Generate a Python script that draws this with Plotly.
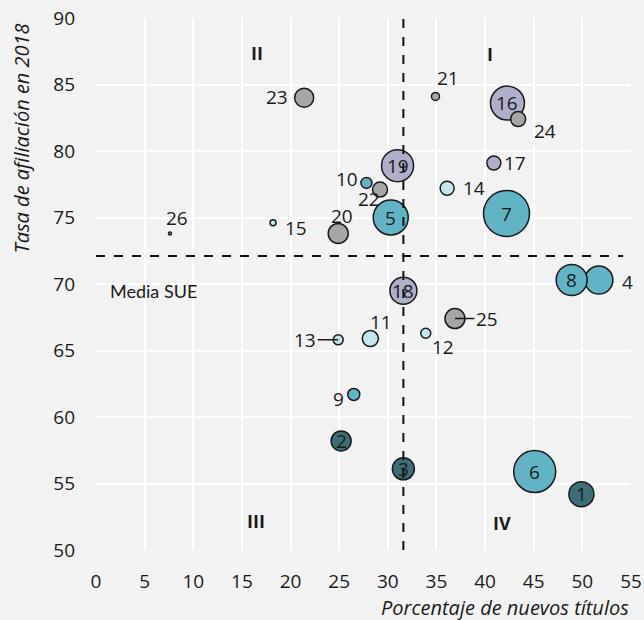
import plotly.graph_objects as go

# ---- data ----
ids = [str(i) for i in range(1, 27)]
pct_nuevos = [49.9, 25.2, 31.6, 51.7, 30.3, 45.1, 42.2, 48.9, 26.5, 27.8,
              28.2, 33.9, 24.9, 36.1, 18.2, 42.3, 40.9, 31.6, 31.0, 24.9,
              34.9, 29.2, 21.4, 43.4, 36.9, 7.6]
tasa_afil = [54.2, 58.2, 56.1, 70.3, 75.0, 55.9, 75.3, 70.3, 61.7, 77.6,
             65.9, 66.3, 65.8, 77.2, 74.6, 83.6, 79.1, 69.5, 78.9, 73.8,
             84.1, 77.1, 84.0, 82.4, 67.4, 73.8]
bubble_value = [25, 20, 22, 28, 35, 42, 46, 31, 12, 11,
                16, 10, 10, 14, 6, 34, 14, 27, 32, 20,
                8, 15, 19, 15, 20, 3]
group = ["A", "A", "A", "B", "B", "B", "B", "B", "B", "B",
         "C", "C", "C", "C", "C", "D", "D", "D", "D", "E",
         "E", "E", "E", "E", "E", "E"]
media_x = 31.6
media_y = 72.1
x_ticks = list(range(0, 56, 5))
y_ticks = list(range(50, 91, 5))

# ---- styles ----
colors = {"A": "#3d6e78", "B": "#62b4c5", "C": "#c2e6ef", "D": "#afafcb", "E": "#a6a6a6"}
inside = {"1", "2", "3", "5", "6", "7", "8", "16", "18", "19"}
label_shift = {
    "4": (29, -2), "9": (-15, -5), "10": (-19, 4), "11": (11, 17), "12": (17, -14),
    "14": (27, 0), "15": (23, -5), "17": (21, 0), "20": (4, 17), "21": (13, 18),
    "22": (-11, -9), "23": (-27, 1), "24": (27, -12), "26": (7, 15),
}
leader = {"13": -33, "25": 32}

FONT = "Open Sans"
TXT = "#1a1a1a"
FS = 19

fig = go.Figure()
for g in ["A", "B", "C", "D", "E"]:
    idx = [i for i, gg in enumerate(group) if gg == g]
    fig.add_trace(go.Scatter(
        x=[pct_nuevos[i] for i in idx],
        y=[tasa_afil[i] for i in idx],
        mode="markers",
        marker=dict(size=[bubble_value[i] for i in idx], sizemode="diameter", sizeref=1,
                    color=colors[g], line=dict(color="#1a1a1a", width=1.5), opacity=1),
        hoverinfo="skip", showlegend=False,
    ))

annotations = []
for i, lab in enumerate(ids):
    if lab in inside:
        annotations.append(dict(x=pct_nuevos[i], y=tasa_afil[i], text=lab, showarrow=False,
                                font=dict(family=FONT, size=FS, color=TXT)))
    elif lab in leader:
        annotations.append(dict(x=pct_nuevos[i], y=tasa_afil[i], text=lab, showarrow=True,
                                ax=leader[lab], ay=0, arrowhead=0, arrowwidth=1.5,
                                arrowcolor=TXT, standoff=0,
                                font=dict(family=FONT, size=FS, color=TXT)))
    else:
        dx, dy = label_shift[lab]
        annotations.append(dict(x=pct_nuevos[i], y=tasa_afil[i], text=lab, showarrow=False,
                                xshift=dx, yshift=dy,
                                font=dict(family=FONT, size=FS, color=TXT)))

for txt, qx, qy in [("II", 16.6, 87.4), ("I", 40.5, 87.3), ("III", 16.4, 52.2), ("IV", 41.7, 52.0)]:
    annotations.append(dict(x=qx, y=qy, text="<b>%s</b>" % txt, showarrow=False,
                            font=dict(family=FONT, size=18, color=TXT)))
annotations.append(dict(x=5.9, y=69.5, text="Media SUE", showarrow=False,
                        font=dict(family="Lato", size=18, color=TXT)))
annotations.append(dict(xref="paper", yref="paper", x=-0.14, y=0.774, xanchor="center", yanchor="middle",
                        text="<i>Tasa de afiliación en 2018</i>",
                        textangle=-90, showarrow=False, font=dict(family=FONT, size=20, color=TXT)))
annotations.append(dict(xref="paper", yref="paper", x=1.0, y=-0.109, xanchor="right", yanchor="middle",
                        text="<i>Porcentaje de nuevos títulos</i>", showarrow=False,
                        font=dict(family=FONT, size=20, color=TXT)))

shapes = [
    dict(type="line", x0=media_x, x1=media_x, y0=50, y1=90, xref="x", yref="y",
         line=dict(color="#111111", width=2, dash="dash"), layer="above"),
    dict(type="line", x0=0, x1=54.2, y0=media_y, y1=media_y, xref="x", yref="y",
         line=dict(color="#111111", width=2, dash="dash"), layer="above"),
]

fig.update_layout(
    width=644, height=620,
    margin=dict(l=96, r=13, t=18, b=70, autoexpand=False),
    paper_bgcolor="#f2f2f2", plot_bgcolor="#f2f2f2",
    annotations=annotations, shapes=shapes,
    font=dict(family=FONT, size=FS, color=TXT),
    hovermode=False,
)
fig.update_xaxes(range=[0, 55], tickvals=x_ticks, showgrid=True, gridcolor="#ffffff", gridwidth=2,
                 zeroline=False, showline=False, ticks="", ticklabelstandoff=18, automargin=False,
                 ticklabeloverflow="allow",
                 tickfont=dict(family=FONT, size=FS, color=TXT))
fig.update_yaxes(range=[50, 90], tickvals=y_ticks, showgrid=True, gridcolor="#ffffff", gridwidth=2,
                 zeroline=False, showline=False, ticks="", ticklabelstandoff=20, automargin=False,
                 ticklabeloverflow="allow",
                 tickfont=dict(family=FONT, size=FS, color=TXT))

fig.write_html("out.html",
               config={"displayModeBar": False, "staticPlot": True},
               post_script="document.body.style.margin='0';document.body.style.background='#f2f2f2';")
